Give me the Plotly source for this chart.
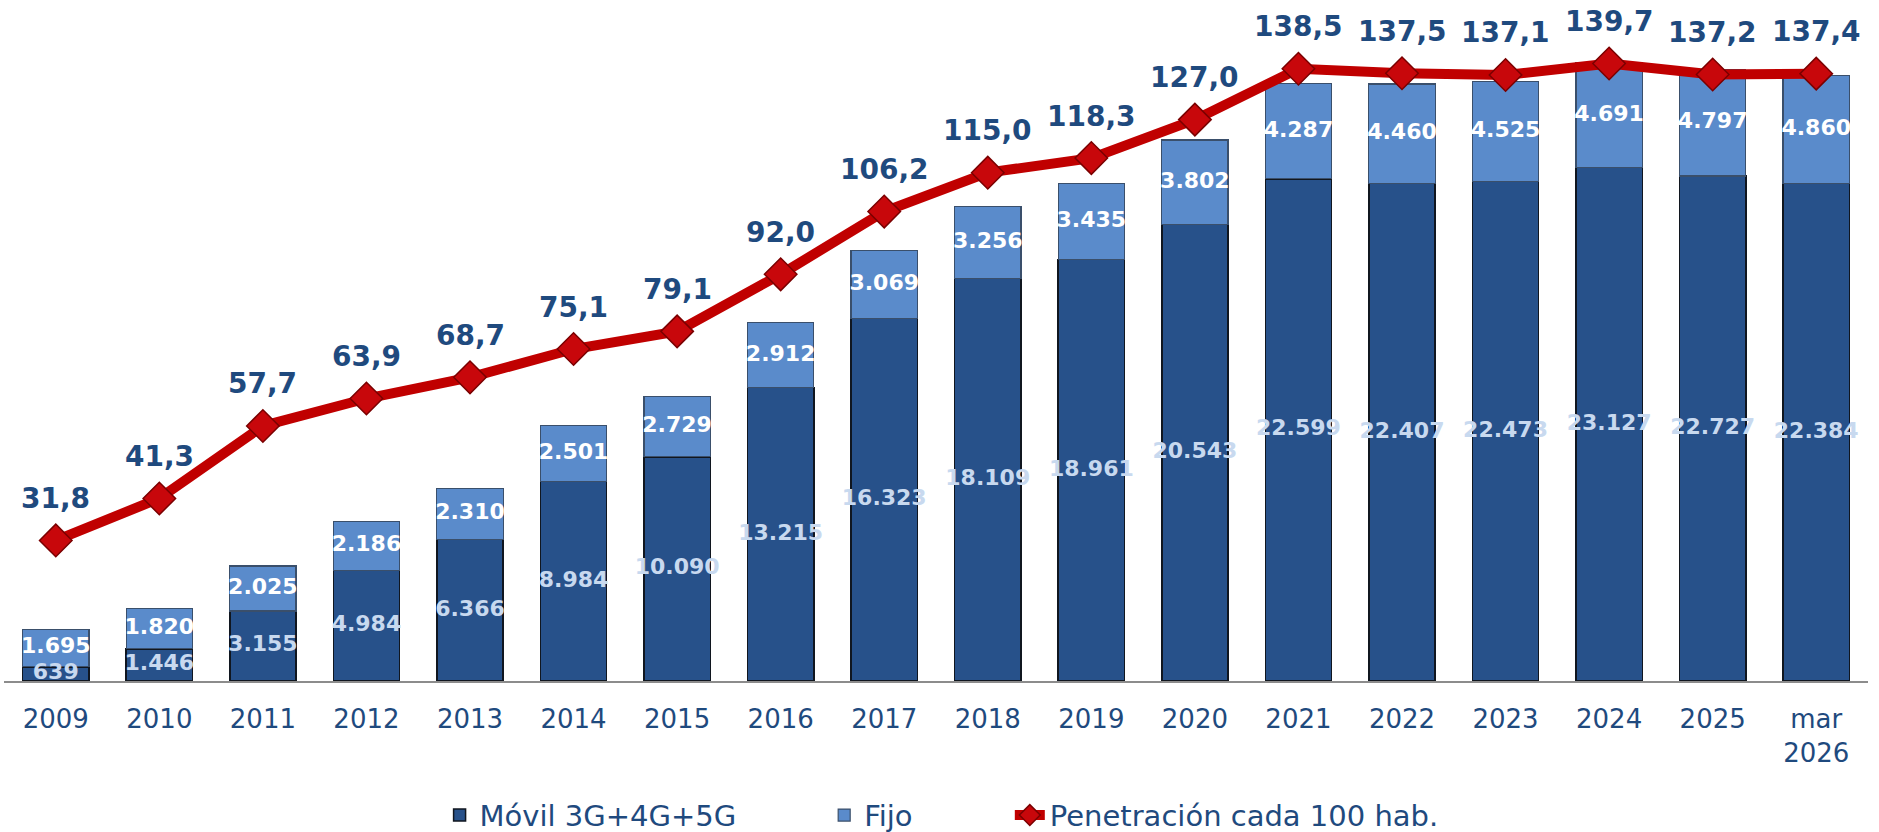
import plotly.graph_objects as go

categories = ["2009", "2010", "2011", "2012", "2013", "2014", "2015", "2016", "2017",
              "2018", "2019", "2020", "2021", "2022", "2023", "2024", "2025", "mar<br>2026"]
movil = [639, 1446, 3155, 4984, 6366, 8984, 10090, 13215, 16323, 18109, 18961, 20543,
         22599, 22407, 22473, 23127, 22727, 22384]
fijo = [1695, 1820, 2025, 2186, 2310, 2501, 2729, 2912, 3069, 3256, 3435, 3802,
        4287, 4460, 4525, 4691, 4797, 4860]
penetracion = [31.8, 41.3, 57.7, 63.9, 68.7, 75.1, 79.1, 92.0, 106.2, 115.0, 118.3, 127.0,
               138.5, 137.5, 137.1, 139.7, 137.2, 137.4]

FONT = "DejaVu Sans"
DARK = "#1F4A7E"
C_MOVIL = "#27518A"
C_FIJO = "#5A8BCB"
C_LINE = "#C00000"


def fmt_int(v):
    return f"{v:,}".replace(",", ".")


def fmt_dec(v):
    return f"{v:.1f}".replace(".", ",")


fig = go.Figure()

fig.add_trace(go.Bar(
    x=categories, y=movil, name="Móvil 3G+4G+5G" + "\u00a0" * 9,
    marker=dict(color=C_MOVIL, line=dict(color="#10161f", width=1.5)),
    hoverinfo="skip",
))
fig.add_trace(go.Bar(
    x=categories, y=fijo, name="Fijo" + "\u00a0" * 10,
    marker=dict(color=C_FIJO, line=dict(color="#3a4f6b", width=1.2)),
    hoverinfo="skip",
))

# Bar value labels, centred in each segment
fig.add_trace(go.Scatter(
    x=categories, y=[m / 2 for m in movil], mode="text",
    text=[fmt_int(v) for v in movil], textposition="middle center",
    textfont=dict(family=FONT, size=22, color="#C8D9EF", weight="bold"),
    showlegend=False, hoverinfo="skip", cliponaxis=False,
))
fig.add_trace(go.Scatter(
    x=categories, y=[m + f / 2 for m, f in zip(movil, fijo)], mode="text",
    text=[fmt_int(v) for v in fijo], textposition="middle center",
    textfont=dict(family=FONT, size=22, color="#FFFFFF", weight="bold"),
    showlegend=False, hoverinfo="skip", cliponaxis=False,
))

fig.add_trace(go.Scatter(
    x=categories, y=penetracion, name="Penetración cada 100 hab.",
    mode="lines+markers", yaxis="y2",
    line=dict(color=C_LINE, width=10),
    marker=dict(symbol="diamond", size=25, color="#C8070B",
                line=dict(color="#7A0000", width=1.5)),
    hoverinfo="skip", cliponaxis=False,
))

for i, v in enumerate(penetracion):
    fig.add_annotation(
        x=i, y=v, xref="x", yref="y2", yshift=42, showarrow=False,
        text=fmt_dec(v),
        font=dict(family=FONT, size=28, color=DARK, weight="bold"),
    )

fig.update_layout(
    width=1879, height=832,
    margin=dict(l=4, r=11, t=10, b=151, autoexpand=False),
    barmode="stack", bargap=0.36,
    plot_bgcolor="white", paper_bgcolor="white",
    font=dict(family=FONT, color=DARK),
    xaxis=dict(
        type="category", range=[-0.5, 17.5],
        showline=True, linecolor="#8C8C8C", linewidth=2,
        ticks="outside", ticklen=14, tickcolor="rgba(0,0,0,0)",
        tickfont=dict(family=FONT, size=26, color=DARK),
        showgrid=False, zeroline=False, automargin=False,
    ),
    yaxis=dict(range=[0, 30200], visible=False, showgrid=False, zeroline=False),
    yaxis2=dict(range=[0, 151.8], overlaying="y", visible=False,
                showgrid=False, zeroline=False),
    legend=dict(
        orientation="h", x=0.503, xanchor="center", y=-0.2, yanchor="middle",
        font=dict(family=FONT, size=29, color=DARK),
        traceorder="normal", itemwidth=30,
    ),
    showlegend=True,
)

fig.write_html(
    "out.html",
    config={"displayModeBar": False},
    post_script="document.body.style.margin='0';document.body.style.overflow='hidden';",
)
